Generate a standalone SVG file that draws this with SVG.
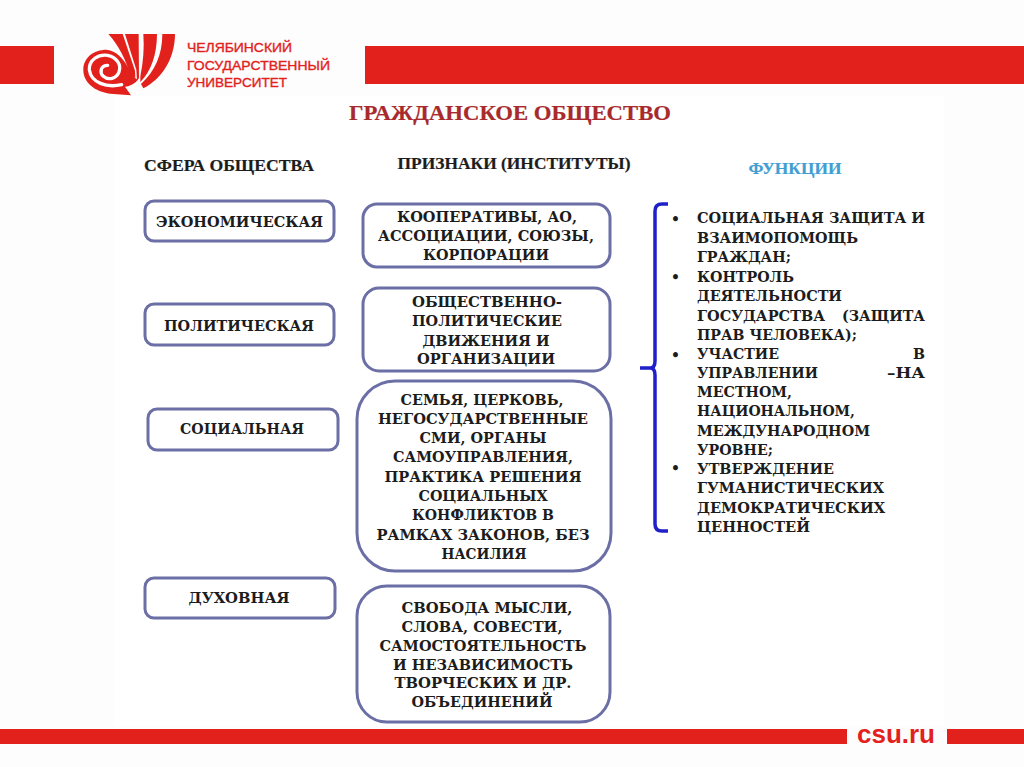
<svg xmlns="http://www.w3.org/2000/svg" width="1024" height="767" viewBox="0 0 1024 767">
<style>
.red{fill:#e3211c}
.box{fill:#fff;stroke:#6c6fa6;stroke-width:3}
.t{font-family:"DejaVu Serif","Liberation Serif",serif;font-weight:700;font-size:14px;fill:#1c1c1c;text-anchor:middle}
.h{font-family:"Liberation Serif","DejaVu Serif",serif;font-weight:700;font-size:17px;fill:#1c1c1c;text-anchor:middle;stroke:#1c1c1c;stroke-width:.2px}
.l{text-anchor:start}
.logo{font-family:"Liberation Sans",Arial,sans-serif;font-weight:400;font-size:13px;fill:#e3211c;stroke:#e3211c;stroke-width:.35px}
</style>
<rect width="1024" height="767" fill="#fdfdfd"/>
<rect x="114" y="96" width="830" height="630" fill="#fff"/>
<g id="header">
<rect class="red" x="0" y="46" width="54" height="38"/>
<rect class="red" x="365" y="46" width="659" height="38"/>
<g id="logo-mark" transform="translate(75 28) scale(.3333)">
<path class="red" d="M100 18H143L180 128L181 150L165 140C155 100 130 50 100 18Z"/>
<path class="red" d="M150 18H191L192 150L186 158L184 125Z"/>
<path class="red" d="M205 18H246C246 80 228 130 196 162L196 145C205 100 208 60 205 18Z"/>
<path class="red" d="M262 18H300C300 90 262 152 205 181L198 168C240 130 262 80 262 18Z"/>
<path class="red" d="M95 65C55 65 25 90 25 125C25 165 60 190 105 197L168 202L150 176C165 174 180 167 188 155C160 140 155 75 95 65Z"/>
<path d="M140 170C95 180 48 165 43 125C42 95 70 78 98 82C125 88 140 110 132 132C125 152 100 158 85 145C72 132 78 112 98 112" fill="none" stroke="#fff" stroke-width="10" stroke-linecap="round"/>
</g>
<text class="logo" x="187" y="52" textLength="105" lengthAdjust="spacingAndGlyphs">ЧЕЛЯБИНСКИЙ</text>
<text class="logo" x="187" y="70" textLength="143" lengthAdjust="spacingAndGlyphs">ГОСУДАРСТВЕННЫЙ</text>
<text class="logo" x="187" y="87" textLength="100" lengthAdjust="spacingAndGlyphs">УНИВЕРСИТЕТ</text>
</g>
<text class="h" x="510" y="120" style="font-size:20px;fill:#a82a2c;stroke:#a82a2c" textLength="322" lengthAdjust="spacingAndGlyphs">ГРАЖДАНСКОЕ ОБЩЕСТВО</text>
<text class="h" x="229" y="171" textLength="170" lengthAdjust="spacingAndGlyphs">СФЕРА ОБЩЕСТВА</text>
<text class="h" x="514" y="169" textLength="233" lengthAdjust="spacingAndGlyphs">ПРИЗНАКИ (ИНСТИТУТЫ)</text>
<text class="h" x="795" y="174" style="fill:#3f9fd2;stroke:#3f9fd2" textLength="93" lengthAdjust="spacingAndGlyphs">ФУНКЦИИ</text>

<g id="sphere-economic"><rect class="box" x="145" y="201" width="189" height="40" rx="9"/>
<text class="t" x="239.500" y="227" textLength="167" lengthAdjust="spacingAndGlyphs">ЭКОНОМИЧЕСКАЯ</text></g>
<g id="sphere-political"><rect class="box" x="145" y="304" width="189" height="41" rx="9"/>
<text class="t" x="239" y="331" textLength="150" lengthAdjust="spacingAndGlyphs">ПОЛИТИЧЕСКАЯ</text></g>
<g id="sphere-social"><rect class="box" x="148" y="409" width="190" height="41" rx="9"/>
<text class="t" x="242" y="434" textLength="124" lengthAdjust="spacingAndGlyphs">СОЦИАЛЬНАЯ</text></g>
<g id="sphere-spiritual"><rect class="box" x="145" y="578" width="190" height="40" rx="9"/>
<text class="t" x="239" y="603" textLength="101" lengthAdjust="spacingAndGlyphs">ДУХОВНАЯ</text></g>

<g id="inst-economic"><rect class="box" x="363" y="204" width="247" height="63" rx="14"/>
<text class="t" x="487" y="222" textLength="180" lengthAdjust="spacingAndGlyphs">КООПЕРАТИВЫ, АО,</text>
<text class="t" x="486" y="241" textLength="216" lengthAdjust="spacingAndGlyphs">АССОЦИАЦИИ, СОЮЗЫ,</text>
<text class="t" x="486" y="260" textLength="126" lengthAdjust="spacingAndGlyphs">КОРПОРАЦИИ</text></g>
<g id="inst-political"><rect class="box" x="363" y="288" width="247" height="83" rx="16"/>
<text class="t" x="487" y="307" textLength="150" lengthAdjust="spacingAndGlyphs">ОБЩЕСТВЕННО-</text>
<text class="t" x="487" y="326" textLength="150" lengthAdjust="spacingAndGlyphs">ПОЛИТИЧЕСКИЕ</text>
<text class="t" x="486" y="346" textLength="127" lengthAdjust="spacingAndGlyphs">ДВИЖЕНИЯ И</text>
<text class="t" x="486" y="364" textLength="138" lengthAdjust="spacingAndGlyphs">ОРГАНИЗАЦИИ</text></g>
<g id="inst-social"><rect class="box" x="357" y="381" width="254" height="190" rx="38"/>
<text class="t" x="482" y="405" textLength="163" lengthAdjust="spacingAndGlyphs">СЕМЬЯ, ЦЕРКОВЬ,</text>
<text class="t" x="483" y="424" textLength="210" lengthAdjust="spacingAndGlyphs">НЕГОСУДАРСТВЕННЫЕ</text>
<text class="t" x="483" y="443" textLength="127" lengthAdjust="spacingAndGlyphs">СМИ, ОРГАНЫ</text>
<text class="t" x="483" y="462" textLength="180" lengthAdjust="spacingAndGlyphs">САМОУПРАВЛЕНИЯ,</text>
<text class="t" x="483" y="482" textLength="197" lengthAdjust="spacingAndGlyphs">ПРАКТИКА РЕШЕНИЯ</text>
<text class="t" x="483" y="501" textLength="129" lengthAdjust="spacingAndGlyphs">СОЦИАЛЬНЫХ</text>
<text class="t" x="483" y="520" textLength="142" lengthAdjust="spacingAndGlyphs">КОНФЛИКТОВ В</text>
<text class="t" x="483" y="540" textLength="213" lengthAdjust="spacingAndGlyphs">РАМКАХ ЗАКОНОВ, БЕЗ</text>
<text class="t" x="484" y="559" textLength="85" lengthAdjust="spacingAndGlyphs">НАСИЛИЯ</text></g>
<g id="inst-spiritual"><rect class="box" x="357" y="586" width="253" height="136" rx="30"/>
<text class="t" x="487" y="613" textLength="171" lengthAdjust="spacingAndGlyphs">СВОБОДА МЫСЛИ,</text>
<text class="t" x="482" y="632" textLength="161" lengthAdjust="spacingAndGlyphs">СЛОВА, СОВЕСТИ,</text>
<text class="t" x="483" y="651" textLength="207" lengthAdjust="spacingAndGlyphs">САМОСТОЯТЕЛЬНОСТЬ</text>
<text class="t" x="483" y="670" textLength="180" lengthAdjust="spacingAndGlyphs">И НЕЗАВИСИМОСТЬ</text>
<text class="t" x="483" y="688" textLength="177" lengthAdjust="spacingAndGlyphs">ТВОРЧЕСКИХ И ДР.</text>
<text class="t" x="482" y="707" textLength="141" lengthAdjust="spacingAndGlyphs">ОБЪЕДИНЕНИЙ</text></g>

<g id="connectors">
<path d="M668 204H662Q655 204 655 211V361Q655 368 650 368H640M650 368Q655 368 655 375V524Q655 531 662 531H668" fill="none" stroke="#2020c8" stroke-width="3.5"/>
</g>
<g id="functions">
<text class="t l" x="671" y="224">•</text>
<text class="t l" x="671" y="282">•</text>
<text class="t l" x="671" y="360">•</text>
<text class="t l" x="671" y="473">•</text>
<text class="t l" x="697" y="223" textLength="228" lengthAdjust="spacingAndGlyphs">СОЦИАЛЬНАЯ ЗАЩИТА И</text>
<text class="t l" x="697" y="243" textLength="161" lengthAdjust="spacingAndGlyphs">ВЗАИМОПОМОЩЬ</text>
<text class="t l" x="697" y="262" textLength="94" lengthAdjust="spacingAndGlyphs">ГРАЖДАН;</text>
<text class="t l" x="697" y="282" textLength="97" lengthAdjust="spacingAndGlyphs">КОНТРОЛЬ</text>
<text class="t l" x="697" y="301" textLength="145" lengthAdjust="spacingAndGlyphs">ДЕЯТЕЛЬНОСТИ</text>
<text class="t l" x="697" y="321" textLength="128" lengthAdjust="spacingAndGlyphs">ГОСУДАРСТВА</text>
<text class="t l" x="842" y="321" textLength="83" lengthAdjust="spacingAndGlyphs">(ЗАЩИТА</text>
<text class="t l" x="697" y="340" textLength="160" lengthAdjust="spacingAndGlyphs">ПРАВ ЧЕЛОВЕКА);</text>
<text class="t l" x="697" y="359" textLength="82" lengthAdjust="spacingAndGlyphs">УЧАСТИЕ</text>
<text class="t l" x="913" y="359" textLength="12" lengthAdjust="spacingAndGlyphs">В</text>
<text class="t l" x="697" y="378" textLength="121" lengthAdjust="spacingAndGlyphs">УПРАВЛЕНИИ</text>
<text class="t l" x="887" y="378" textLength="38" lengthAdjust="spacingAndGlyphs">–НА</text>
<text class="t l" x="697" y="397" textLength="95" lengthAdjust="spacingAndGlyphs">МЕСТНОМ,</text>
<text class="t l" x="697" y="416" textLength="158" lengthAdjust="spacingAndGlyphs">НАЦИОНАЛЬНОМ,</text>
<text class="t l" x="697" y="436" textLength="173" lengthAdjust="spacingAndGlyphs">МЕЖДУНАРОДНОМ</text>
<text class="t l" x="697" y="455" textLength="76" lengthAdjust="spacingAndGlyphs">УРОВНЕ;</text>
<text class="t l" x="697" y="474" textLength="137" lengthAdjust="spacingAndGlyphs">УТВЕРЖДЕНИЕ</text>
<text class="t l" x="697" y="493" textLength="187" lengthAdjust="spacingAndGlyphs">ГУМАНИСТИЧЕСКИХ</text>
<text class="t l" x="697" y="513" textLength="188" lengthAdjust="spacingAndGlyphs">ДЕМОКРАТИЧЕСКИХ</text>
<text class="t l" x="697" y="532" textLength="113" lengthAdjust="spacingAndGlyphs">ЦЕННОСТЕЙ</text>
</g>
<g id="footer">
<rect class="red" x="0" y="729" width="847" height="15"/>
<rect class="red" x="947" y="729" width="77" height="15"/>
<text x="896" y="743" text-anchor="middle" style="font-family:'Liberation Sans',Arial,sans-serif;font-weight:700;font-size:25px;fill:#e3211c" textLength="78" lengthAdjust="spacingAndGlyphs">csu.ru</text>
</g>
</svg>
